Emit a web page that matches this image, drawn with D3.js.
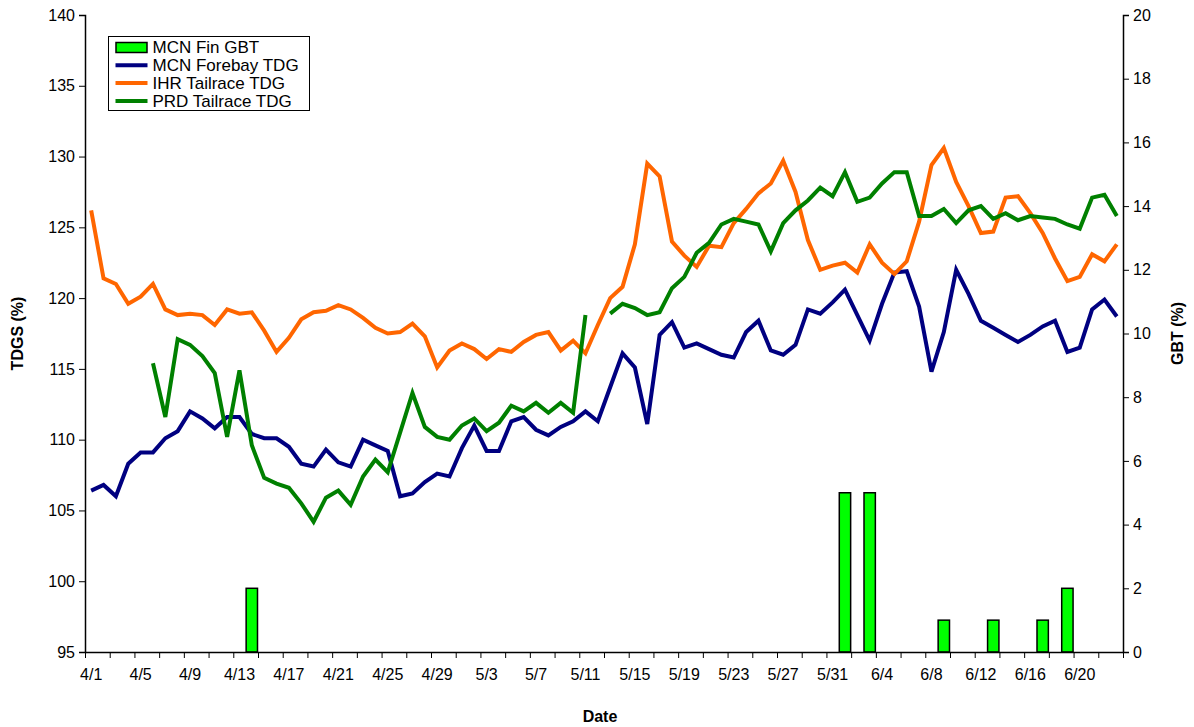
<!DOCTYPE html>
<html>
<head>
<meta charset="utf-8">
<script src="https://cdnjs.cloudflare.com/ajax/libs/d3/7.8.5/d3.min.js"></script>
<style>
  body { margin: 0; background: #fff; }
  svg { font-family: "Liberation Sans", Arial, sans-serif; }
  .axis text { font-size: 16px; fill: #000; }
  .axis path, .axis line { stroke: #000; }
</style>
</head>
<body>
<div id="chart"></div>
<script>

// categories: one per day, 4/1 .. 6/23
var startDay = new Date(2005, 3, 1),
    endDay = new Date(2005, 5, 24);
var days = d3.timeDay.range(startDay, endDay).map(function (d) {
    return (d.getMonth() + 1) + "/" + d.getDate();
});

// MCN fin GBT (right axis)
var gbtDays = ["4/14", "6/1", "6/3", "6/9", "6/13", "6/17", "6/19"];
var gbtValues = [2, 5, 5, 1, 1, 1, 2];

// TDG series (left axis), one value per day
var mcnForebay = [106.4, 106.8, 106.0, 108.3, 109.1, 109.1, 110.1, 110.6, 112.0, 111.5,
    110.8, 111.6, 111.6, 110.4, 110.1, 110.1, 109.5, 108.3, 108.1, 109.3,
    108.4, 108.1, 110.0, 109.6, 109.2, 106.0, 106.2, 107.0, 107.6, 107.4,
    109.4, 111.0, 109.2, 109.2, 111.3, 111.6, 110.7, 110.3, 110.9, 111.3,
    112.0, 111.3, 113.7, 116.1, 115.1, 111.1, 117.4, 118.3, 116.5, 116.8,
    116.4, 116.0, 115.8, 117.6, 118.4, 116.3, 116.0, 116.7, 119.2, 118.9,
    119.7, 120.6, 118.8, 117.0, 119.6, 121.8, 121.9, 119.4, 114.8, 117.6,
    122.0, 120.3, 118.4, 117.9, 117.4, 116.9, 117.4, 118.0, 118.4, 116.2,
    116.5, 119.2, 119.9, 118.7];

var ihrTailrace = [126.2, 121.4, 121.0, 119.6, 120.1, 121.0, 119.2, 118.8, 118.9, 118.8,
    118.1, 119.2, 118.9, 119.0, 117.7, 116.2, 117.2, 118.5, 119.0, 119.1,
    119.5, 119.2, 118.6, 117.9, 117.5, 117.6, 118.2, 117.3, 115.1, 116.3,
    116.8, 116.4, 115.7, 116.4, 116.2, 116.9, 117.4, 117.6, 116.3, 117.0,
    116.1, 118.1, 120.0, 120.8, 123.8, 129.5, 128.6, 124.0, 123.0, 122.2,
    123.7, 123.6, 125.3, 126.3, 127.4, 128.1, 129.7, 127.5, 124.1, 122.0,
    122.3, 122.5, 121.8, 123.8, 122.5, 121.7, 122.6, 125.4, 129.4, 130.6,
    128.2, 126.5, 124.6, 124.7, 127.1, 127.2, 126.0, 124.6, 122.8, 121.2,
    121.5, 123.1, 122.6, 123.8];

var prdTailrace = [null, null, null, null, null, 115.4, 111.6, 117.1, 116.7, 115.9,
    114.7, 110.2, 114.9, 109.6, 107.3, 106.9, 106.6, 105.5, 104.2, 105.9,
    106.4, 105.4, 107.4, 108.6, 107.7, 110.5, 113.3, 110.9, 110.2, 110.0,
    111.0, 111.5, 110.6, 111.2, 112.4, 112.0, 112.6, 111.9, 112.6, 111.9,
    118.8, null, 118.9, 119.6, 119.3, 118.8, 119.0, 120.7, 121.5, 123.2,
    123.9, 125.2, 125.6, 125.4, 125.2, 123.3, 125.3, 126.2, 126.9, 127.8,
    127.2, 128.9, 126.8, 127.1, 128.1, 128.9, 128.9, 125.8, 125.8, 126.3,
    125.3, 126.2, 126.5, 125.6, 126.0, 125.5, 125.8, 125.7, 125.6, 125.2,
    124.9, 127.1, 127.3, 125.8];

var tdgTicks = [95, 100, 105, 110, 115, 120, 125, 130, 135, 140];
var gbtTicks = [0, 2, 4, 6, 8, 10, 12, 14, 16, 18, 20];

var seriesList = [
    {name: "MCN Forebay TDG", values: mcnForebay, color: "#000080"},
    {name: "IHR Tailrace TDG", values: ihrTailrace, color: "#FF6600"},
    {name: "PRD Tailrace TDG", values: prdTailrace, color: "#008000"}
];


var margin = {top: 15, right: 71, bottom: 75, left: 85},
    width = 1194 - margin.left - margin.right,
    height = 727 - margin.top - margin.bottom;

var svg = d3.select("#chart").append("svg")
    .attr("width", 1194)
    .attr("height", 727);

var g = svg.append("g")
    .attr("transform", "translate(" + margin.left + "," + margin.top + ")");

// scales
var x = d3.scaleBand().domain(days).range([0, width]).padding(0);
var xIndex = d3.scaleLinear().domain([0, days.length]).range([0, width]);
var y = d3.scaleLinear().domain([95, 140]).range([height, 0]);
var y2 = d3.scaleLinear().domain([0, 20]).range([height, 0]);

// GBT bars
g.selectAll(".bar")
    .data(gbtDays)
    .enter().append("rect")
    .attr("class", "bar")
    .attr("x", function (d) { return x(d) + 0.5; })
    .attr("width", x.bandwidth() - 1)
    .attr("y", function (d, i) { return y2(gbtValues[i]); })
    .attr("height", function (d, i) { return height - y2(gbtValues[i]); })
    .attr("fill", "#00FF00")
    .attr("stroke", "#000")
    .attr("stroke-width", 1.5);

// lines
var line = d3.line()
    .defined(function (d) { return d != null; })
    .x(function (d, i) { return x(days[i]) + x.bandwidth() / 2; })
    .y(function (d) { return y(d); });

g.selectAll(".series")
    .data(seriesList)
    .enter().append("path")
    .attr("class", "series")
    .attr("fill", "none")
    .attr("stroke", function (d) { return d.color; })
    .attr("stroke-width", 4)
    .attr("stroke-linejoin", "miter")
    .attr("d", function (d) { return line(d.values); });

// axes
g.append("g")
    .attr("class", "axis")
    .call(d3.axisLeft(y).tickValues(tdgTicks).tickSize(6).tickPadding(4))
    .call(function (a) { a.select(".domain").attr("stroke-width", 1.5); });

g.append("g")
    .attr("class", "axis")
    .attr("transform", "translate(" + width + ",0)")
    .call(d3.axisRight(y2).tickValues(gbtTicks).tickSize(6).tickPadding(4))
    .call(function (a) { a.select(".domain").attr("stroke-width", 1.5); });

// bottom: tick marks every 2 days on category edges, labels every 4 days
g.append("g")
    .attr("class", "axis")
    .attr("transform", "translate(0," + height + ")")
    .call(d3.axisBottom(xIndex)
        .tickValues(d3.range(0, days.length + 1, 2))
        .tickFormat("")
        .tickSize(6)
        .tickSizeOuter(0))
    .call(function (a) { a.select(".domain").attr("stroke-width", 1.5); });

g.append("g")
    .attr("class", "axis")
    .attr("transform", "translate(0," + height + ")")
    .call(d3.axisBottom(x)
        .tickValues(days.filter(function (d, i) { return i % 4 === 0; }))
        .tickSize(0)
        .tickPadding(17))
    .call(function (a) { a.select(".domain").remove(); });

// axis titles
svg.append("text")
    .attr("transform", "translate(23," + (margin.top + height / 2) + ") rotate(-90)")
    .attr("text-anchor", "middle")
    .attr("font-size", "16px")
    .attr("font-weight", "bold")
    .text("TDGS (%)");

svg.append("text")
    .attr("transform", "translate(1183," + (margin.top + height / 2) + ") rotate(-90)")
    .attr("text-anchor", "middle")
    .attr("font-size", "16px")
    .attr("font-weight", "bold")
    .text("GBT (%)");

svg.append("text")
    .attr("x", 600)
    .attr("y", 722)
    .attr("text-anchor", "middle")
    .attr("font-size", "16px")
    .attr("font-weight", "bold")
    .text("Date");

// legend
var legend = svg.append("g")
    .attr("transform", "translate(108.5,36.5)");

legend.append("rect")
    .attr("width", 201)
    .attr("height", 74)
    .attr("fill", "#fff")
    .attr("stroke", "#000")
    .attr("stroke-width", 1);

var legendItems = [{name: "MCN Fin GBT", bar: true}].concat(seriesList);

var item = legend.selectAll(".item")
    .data(legendItems)
    .enter().append("g")
    .attr("class", "item")
    .attr("transform", function (d, i) { return "translate(7," + (11 + i * 17.8) + ")"; });

item.each(function (d) {
    var el = d3.select(this);
    if (d.bar) {
        el.append("rect")
            .attr("x", 0.5).attr("y", -5)
            .attr("width", 31).attr("height", 10)
            .attr("fill", "#00FF00")
            .attr("stroke", "#000")
            .attr("stroke-width", 1.5);
    } else {
        el.append("line")
            .attr("x1", 0).attr("x2", 32)
            .attr("stroke", d.color)
            .attr("stroke-width", 4);
    }
});

item.append("text")
    .attr("x", 37)
    .attr("dy", "0.35em")
    .attr("font-size", "17px")
    .text(function (d) { return d.name; });

</script>
</body>
</html>
